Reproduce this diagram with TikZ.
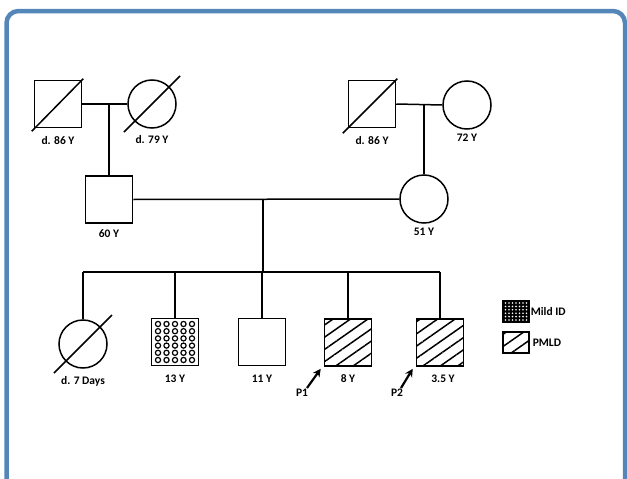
\documentclass[tikz,border=0pt]{standalone}
\usepackage{fontspec}
\setmainfont{Carlito}
\usetikzlibrary{arrows.meta, positioning, calc, patterns.meta}
\definecolor{framebl}{RGB}{84,134,186}

\begin{document}
\begin{tikzpicture}[
    x=1pt, y=1pt,
    male/.style={rectangle, draw=black, line width=1.5pt, minimum size=47pt, inner sep=0pt},
    female/.style={circle, draw=black, line width=1.5pt, minimum size=48pt, inner sep=0pt},
    tag/.style={font=\fontsize{11.5}{13}\selectfont\bfseries, inner sep=1pt},
    link/.style={line width=1.5pt},
    dead/.style={line width=1.5pt},
    proband/.style={line width=2.2pt, -{Stealth[length=8pt, width=8pt]}},
    pmld/.style={pattern={Lines[angle=35, distance=10pt, line width=1.5pt]}},
    legbox/.style={rectangle, draw=black, line width=1.2pt, minimum width=26pt, minimum height=22pt, inner sep=0pt},
]

    % frame and page size
    \useasboundingbox (0,0) rectangle (627,-479);
    \begin{scope}
      \clip (0,0) rectangle (627,-479);
      \draw[framebl, line width=4.5pt, rounded corners=12pt] (6.5,-11) rectangle (625,-530);
    \end{scope}

    % generation I
    \node (gp1) [male] at (58,-104) {};
    \node (gm1) [female] at (152,-104) {};
    \node (gp2) [male] at (372,-104) {};
    \node (gm2) [female] at (467,-105) {};

    % generation II
    \node (father) [male] at (109,-199.5) {};
    \node (mother) [female] at (424,-199) {};

    % generation III
    \node (c1) [female] at (83,-344) {};
    \node (c2) [male] at (175,-342) {};
    \node (c3) [male] at (262,-342) {};
    \node (c4) [male, pmld] at (348,-342.5) {};
    \node (c5) [male, pmld] at (440,-342.5) {};

    % labels
    \node (t_gp1) [tag, below=6.5pt of gp1] {d. 86 Y};
    \node (t_gm1) [tag, below=5pt of gm1] {d. 79 Y};
    \node (t_gp2) [tag, below=6.5pt of gp2] {d. 86 Y};
    \node (t_gm2) [tag, below=3.5pt of gm2] {72 Y};
    \node (t_father) [tag, below=4.5pt of father] {60 Y};
    \node (t_mother) [tag, below=3pt of mother] {51 Y};
    \node (t_c1) [tag, below=6.5pt of c1] {d. 7 Days};
    \node (t_c2) [tag, below=7.5pt of c2] {13 Y};
    \node (t_c3) [tag, below=7.5pt of c3] {11 Y};
    \node (t_c4) [tag, below=7pt of c4] {8 Y};
    \node (t_c5) [tag, below=7pt of c5, xshift=3pt] {3.5 Y};

    % circles inside 13 Y
    \foreach \i in {-17,-8.5,0,8.5,17}
      \foreach \j in {-18,-10.8,-3.6,3.6,10.8,18}
        \draw[line width=1.2pt] ($(c2.center)+(\i,\j)$) circle (2.6pt);

    % deceased strokes
    \draw[dead] ($(gp1.south west)+(-2,-3)$) -- ($(gp1.north east)+(1,1)$);
    \draw[dead] ($(gm1.center)+(-28,-28)$) -- ($(gm1.center)+(28,28)$);
    \draw[dead] ($(gp2.south west)+(-5,-5)$) -- ($(gp2.north east)+(1,1)$);
    \draw[dead] ($(c1.center)+(-29,-29)$) -- ($(c1.center)+(29,29)$);

    % couples and descent
    \draw[link] (gp1.east) -- (gm1.west);
    \draw[link] (father.north) -- (father.north |- gp1.east);
    \draw[link] (gp2.east) -- (gm2.west);
    \draw[link] (mother.north) -- (mother.north |- gp2.east);
    \draw[link] (father.east) -- (mother.west);
    \coordinate (sib) at (263,-272);
    \draw[link] (sib) -- (sib |- father.east);
    \draw[link] (c1.north |- sib) -- (c5.north |- sib);
    \foreach \c in {c1,c2,c3,c4,c5}
      \draw[link] (\c.north) -- (\c.north |- sib);

    % probands
    \node (p1) [tag] at (302,-393) {P1};
    \node (p2) [tag] at (397,-393) {P2};
    \draw[proband] (307,-388) -- ($(c4.south west)+(-3,-2)$);
    \draw[proband] (401,-388) -- ($(c5.south west)+(-3,-2)$);

    % legend
    \node (mild) [legbox, fill=black] at (516,-311.5) {};
    \foreach \i in {-10.5,-7,-3.5,0,3.5,7,10.5}
      \foreach \j in {-8.5,-5.1,-1.7,1.7,5.1,8.5}
        \fill[white] ($(mild.center)+(\i,\j)$) circle (0.9pt);
    \node (pm) [legbox, pmld, minimum height=21pt] at (516,-342.5) {};
    \node (t_mild) [tag, right=0pt of mild] {Mild ID};
    \node (t_pm) [tag, right=2pt of pm] {PMLD};

\end{tikzpicture}
\end{document}
